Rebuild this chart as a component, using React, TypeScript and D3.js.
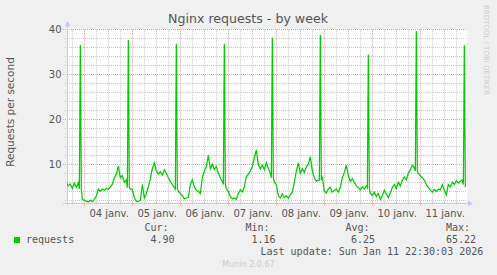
import React from "react";
import * as d3 from "d3";

const W = 497;
const H = 275;

const title = "Nginx requests - by week";
const yLabel = "Requests per second";
const yTickValues = [10, 20, 30, 40];
const dayLabels = ["04 janv.", "05 janv.", "06 janv.", "07 janv.", "08 janv.", "09 janv.", "10 janv.", "11 janv."];
const seriesName = "requests";
const legendHeads = ["Cur:", "Min:", "Avg:", "Max:"];
const legendValues = ["4.90", "1.16", "6.25", "65.22"];
const lastUpdate = "Last update: Sun Jan 11 22:30:03 2026";
const footer = "Munin 2.0.67";
const watermark = "RRDTOOL / TOBI OETIKER";

// hourly readings (requests/s); index 0 = first hour of the day listed
const jan03Start = 15;
const jan03 = [5.9, 5.2, 5.6, 4.6, 5.8, 4.9, 5.9, 4.5, 2.2];
const jan04 = [2.0, 1.8, 1.6, 2.0, 1.7, 2.2, 3.0, 4.5, 4.0, 4.5, 4.2, 4.6, 4.4, 5.0, 5.5, 7.0, 7.8, 9.6, 7.0, 7.5, 6.0, 6.5, 4.8, 4.5];
const jan05 = [4.5, 2.5, 1.8, 1.7, 2.0, 5.5, 2.5, 3.5, 5.0, 6.8, 9.0, 10.3, 8.5, 7.8, 8.3, 7.6, 8.8, 8.0, 7.0, 6.2, 5.5, 4.8, 4.5, 4.0];
const jan06 = [3.5, 3.0, 2.3, 2.5, 2.6, 5.5, 6.5, 5.0, 4.2, 4.0, 3.5, 7.0, 8.5, 9.5, 12.0, 9.0, 10.0, 8.8, 9.5, 8.0, 7.0, 6.2, 5.5, 4.5];
const jan07 = [4.0, 2.8, 2.3, 2.5, 2.2, 3.5, 4.3, 3.8, 5.0, 7.2, 7.8, 8.5, 9.5, 11.5, 13.2, 10.0, 9.0, 9.8, 8.8, 10.3, 9.0, 8.0, 7.0, 6.0];
const jan08 = [5.5, 3.0, 2.5, 3.4, 2.6, 3.0, 2.4, 3.2, 3.8, 6.0, 8.5, 10.3, 8.0, 9.0, 8.2, 9.5, 10.0, 11.7, 8.5, 7.0, 6.2, 6.5, 6.5, 7.0];
const jan09 = [4.0, 3.6, 4.5, 4.9, 3.8, 4.2, 4.5, 3.8, 5.0, 7.0, 8.2, 9.8, 7.5, 6.2, 6.8, 6.0, 5.2, 4.8, 4.3, 5.0, 4.5, 5.2, 4.8, 3.5];
const jan10 = [3.0, 3.8, 2.8, 3.5, 2.2, 3.0, 4.2, 3.4, 2.6, 3.6, 4.8, 5.5, 4.6, 6.0, 5.2, 6.5, 7.2, 6.5, 8.0, 8.8, 9.8, 9.2, 8.5, 8.0];
const jan11 = [7.5, 7.0, 6.5, 5.5, 4.8, 4.3, 3.8, 4.4, 4.0, 4.5, 4.3, 5.5, 4.2, 3.2, 5.5, 5.0, 6.0, 5.5, 6.3, 5.8, 6.2, 6.5, 5.5];
// nightly burst at 22:00, Jan 3 .. Jan 11
const spikePeaks = [36.5, 37.6, 36.8, 36.8, 38.1, 38.8, 34.4, 39.6, 36.5];
const spikeHour = 22;
const lastValue = 4.9;

const dayArrays = [jan03, jan04, jan05, jan06, jan07, jan08, jan09, jan10, jan11];

type Pt = { t: Date; v: number };

function buildSeries(): Pt[] {
  const pts: Pt[] = [];
  dayArrays.forEach((arr, di) => {
    const start = di === 0 ? jan03Start : 0;
    arr.forEach((v, i) => {
      const h = start + i;
      const mk = (hh: number, val: number) => pts.push({ t: new Date(2026, 0, 3 + di, 0, hh * 60), v: val });
      if (h === spikeHour) {
        mk(h - 0.5, v);
        mk(h, spikePeaks[di]);
        if (di === dayArrays.length - 1) mk(h + 0.5, lastValue);
        else mk(h + 0.5, v);
      } else {
        mk(h, v);
      }
    });
  });
  return pts;
}

const series = buildSeries();

export default function App() {
  const left = 67;
  const right = 467;
  const top = 29.3;
  const bottom = 202.5;
  const x = d3.scaleTime().domain([new Date(2026, 0, 3, 15, 20), new Date(2026, 0, 11, 23, 20)]).range([left, right]);
  const y = d3.scaleLinear().domain([1.5, 40]).range([bottom, top]);
  const line = d3.line<Pt>().x((d) => x(d.t)).y((d) => y(d.v));

  const px = (v: number) => Math.round(v) + 0.5;

  const minorY = d3.range(2, 41, 2).filter((v) => v % 10 !== 0);
  const sixHours = d3.timeHour.every(6)!.range(new Date(2026, 0, 3, 16), new Date(2026, 0, 12, 0));
  const midnights = d3.timeDay.range(new Date(2026, 0, 4), new Date(2026, 0, 12));
  const noons = midnights.map((d) => d3.timeHour.offset(d, 12));

  const minorColor = "#c8c8c8";
  const majorColor = "#f0a0a0";
  const axisColor = "#c8c8f8";
  const textColor = "#555555";
  const font = "DejaVu Sans, sans-serif";
  const mono = "DejaVu Sans Mono, monospace";

  const headX = [144.5, 245.5, 345.5, 446];
  const valX = [150.5, 251.5, 351, 446];

  return (
    <svg width={W} height={H} style={{ position: "absolute", left: 0, top: 0 }}>
      <defs>
        <clipPath id="plotclip">
          <rect x={left} y={top - 10} width={right - left} height={bottom - top + 10} />
        </clipPath>
      </defs>
      <rect x={0} y={0} width={W} height={H} fill="#f0f0f0" />
      <rect x={left} y={px(top) - 0.5} width={right - left} height={bottom - top} fill="#ffffff" />

      {/* minor grid */}
      {minorY.map((v) => (
        <line key={"my" + v} x1={left - 2} x2={right} y1={px(y(v))} y2={px(y(v))} stroke={minorColor} strokeDasharray="1,1" />
      ))}
      {sixHours
        .filter((d) => d.getHours() !== 0)
        .map((d, i) => (
          <g key={"mx" + i}>
            <line x1={px(x(d))} x2={px(x(d))} y1={top} y2={bottom} stroke={minorColor} strokeDasharray="1,1" />
            <line x1={px(x(d))} x2={px(x(d))} y1={bottom} y2={bottom + 2} stroke={minorColor} />
          </g>
        ))}
      {/* major grid */}
      {yTickValues.map((v) => (
        <line key={"My" + v} x1={left - 4} x2={right} y1={px(y(v))} y2={px(y(v))} stroke={majorColor} strokeDasharray="1,1" />
      ))}
      {midnights.map((d, i) => (
        <g key={"Mx" + i}>
          <line x1={px(x(d))} x2={px(x(d))} y1={top} y2={bottom} stroke={majorColor} strokeDasharray="1,1" />
          <line x1={px(x(d))} x2={px(x(d))} y1={bottom} y2={bottom + 3} stroke={majorColor} />
        </g>
      ))}

      {/* axes */}
      <line x1={left - 4} x2={right + 2} y1={px(bottom)} y2={px(bottom)} stroke={axisColor} />
      <path d={`M${right + 1},${px(bottom) - 3} L${right + 6},${px(bottom)} L${right + 1},${px(bottom) + 3} Z`} fill={axisColor} />
      <line x1={px(left)} x2={px(left)} y1={bottom + 3} y2={top - 5} stroke={axisColor} />
      <path d={`M${px(left) - 3},${top - 3} L${px(left)},${top - 8} L${px(left) + 3},${top - 3} Z`} fill={axisColor} />

      {/* series */}
      <path d={line(series) || ""} fill="none" stroke="#00cc00" strokeWidth={1.25} strokeLinejoin="miter" clipPath="url(#plotclip)" />

      {/* title */}
      <text x={248} y={22.5} textAnchor="middle" fontFamily={font} fontSize={12.6} fill={textColor}>
        {title}
      </text>
      {/* y label */}
      <text transform={`translate(13.5,${112}) rotate(-90)`} textAnchor="middle" fontFamily={font} fontSize={10.5} fill={textColor}>
        {yLabel}
      </text>
      {/* y ticks */}
      {yTickValues.map((v) => (
        <text key={"yt" + v} x={61.5} y={y(v) + 3.6} textAnchor="end" fontFamily={font} fontSize={10} fill={textColor}>
          {v}
        </text>
      ))}
      {/* x labels */}
      {noons.map((d, i) => (
        <text key={"xl" + i} x={x(d) + 0.8} y={216.5} textAnchor="middle" fontFamily={font} fontSize={10} fill={textColor}>
          {dayLabels[i]}
        </text>
      ))}

      {/* watermark */}
      <text transform="translate(484,5) rotate(90)" fontFamily={font} fontSize={7} fill="#cccccc">
        {watermark}
      </text>

      {/* legend */}
      <rect x={14} y={237} width={6} height={6} fill="#00cc00" />
      <text x={26} y={243} fontFamily={mono} fontSize={10} fill={textColor}>
        {seriesName}
      </text>
      {legendHeads.map((h, i) => (
        <text key={"lh" + i} x={headX[i]} y={231.2} fontFamily={mono} fontSize={10} fill={textColor}>
          {h}
        </text>
      ))}
      {legendValues.map((v, i) => (
        <text key={"lv" + i} x={valX[i]} y={243.2} fontFamily={mono} fontSize={10} fill={textColor}>
          {v}
        </text>
      ))}
      <text x={260.5} y={255} fontFamily={mono} fontSize={10} fill={textColor}>
        {lastUpdate}
      </text>
      <text x={248.5} y={266.5} textAnchor="middle" fontFamily={font} fontSize={8} fill="#cccccc">
        {footer}
      </text>
    </svg>
  );
}
